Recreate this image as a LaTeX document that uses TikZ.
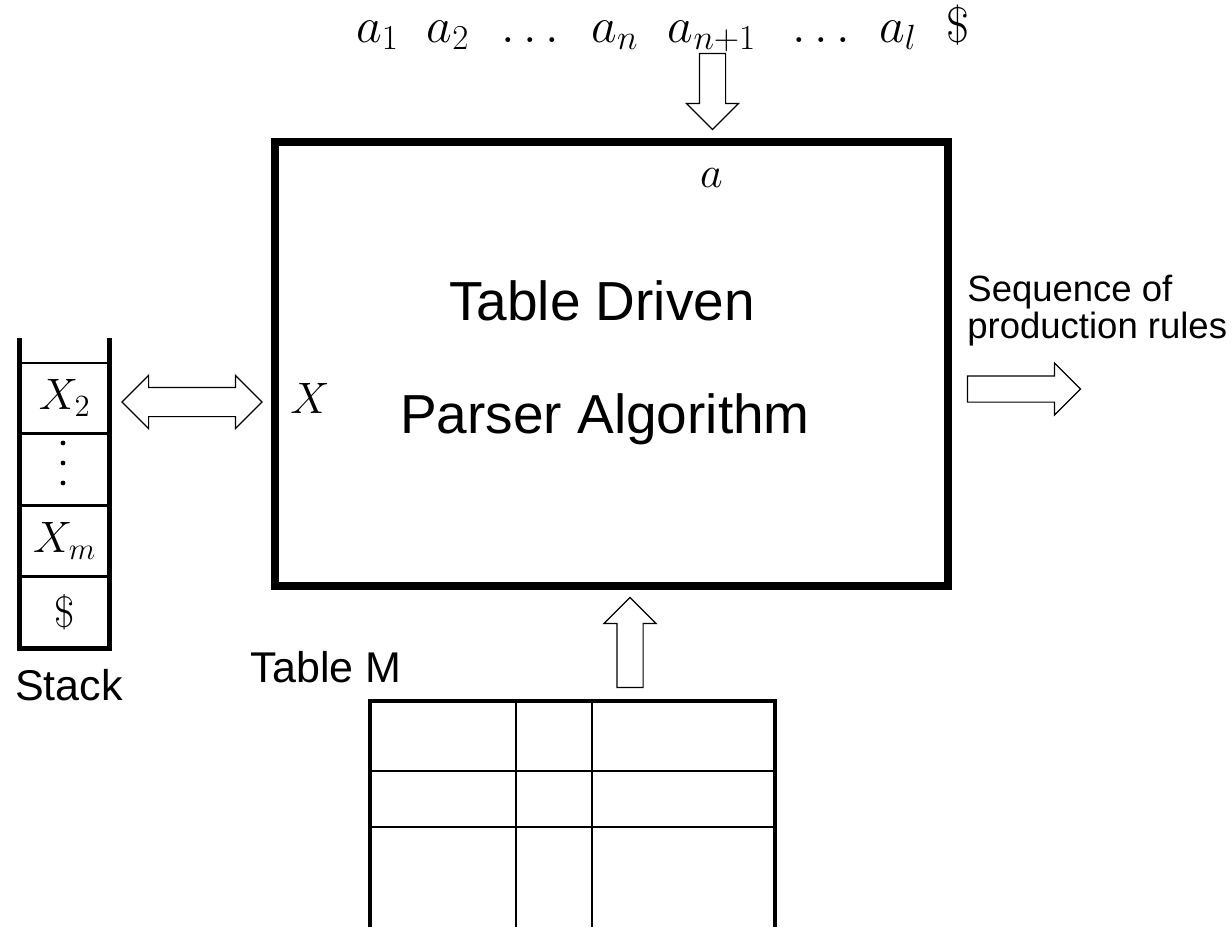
\documentclass[tikz,border=0pt]{standalone}
\usepackage{fix-cm}
\usepackage{fontspec}
\setsansfont{Liberation Sans}
\usetikzlibrary{shapes.arrows, positioning}

\begin{document}
\begin{tikzpicture}[x=0.5pt, y=-0.5pt,
    cell/.style={rectangle, draw, line width=0.75pt, minimum width=44.25pt, minimum height=35pt, inner sep=0pt, font=\fontsize{22}{26}\selectfont},
    hollow/.style={draw, fill=white, line width=0.6pt, inner xsep=0pt, inner ysep=6.25pt},
    intext/.style={inner sep=0pt, anchor=base, font=\fontsize{25}{30}\selectfont},
    mathtext/.style={inner sep=0pt, anchor=base, font=\fontsize{22}{26}\selectfont},
    bigtext/.style={inner sep=0pt, anchor=base, font=\sffamily\fontsize{27.5}{33}\selectfont},
    sidetext/.style={inner sep=0pt, anchor=base, font=\sffamily\fontsize{21.5}{26}\selectfont}]
    \useasboundingbox (0,0) rectangle (1232,927);

    % input tokens
    \foreach \x/\t [count=\i] in {377.5/a_1, 448/a_2, 530.5/\ldots, 615/a_n, 712/a_{n+1}, 821.5/\ldots, 898/a_l, 957.5/\$}
        \node[intext] (in\i) at (\x,42) {$\t$};

    % parser
    \node[rectangle, draw, line width=4pt, minimum width=336.5pt, minimum height=222.25pt] (parser) at (611,363.75) {};
    \node[bigtext] (title1) at (602,320) {Table Driven};
    \node[bigtext] (title2) at (605,433) {Parser Algorithm};
    \node[mathtext] (symx) at (310,413) {$X$};
    \node[mathtext] (syma) at (711.5,187) {$a$};

    % stack
    \node[cell] (x2) at (64.75,398) {$X_2$};
    \node[cell] (mid) [below=0pt of x2] {};
    \node[cell] (xm) [below=0pt of mid] {$X_m$};
    \node[cell] (bot) [below=0pt of xm] {\$};
    \foreach \y in {443,463,483}
        \fill (63,\y) circle[radius=1.2pt];
    \draw[line width=2.5pt] ([yshift=12pt]x2.north west) -- (bot.south west) -- (bot.south east) -- ([yshift=12pt]x2.north east);
    \node[sidetext] (stacklbl) at (69,700) {Stack};

    % table M
    \draw[line width=2pt] (370,927) -- (370,700.5) -- (775,700.5) -- (775,927);
    \draw[line width=0.75pt] (516,700.5) -- (516,927) (592,700.5) -- (592,927)
        (370,771) -- (775,771) (370,827) -- (775,827);
    \node[sidetext] (tbllbl) at (326,682) {Table M};

    % output
    \node[inner sep=0pt, anchor=base west, align=left, font=\sffamily\fontsize{18.25}{16.5}\selectfont] (out) at (967,338) {Sequence of\\production rules};

    % block arrows
    \node[hollow, single arrow, single arrow tip angle=90, single arrow head extend=6.5pt, minimum height=38pt, minimum width=25.5pt, rotate=-90] (tokarrow) at (712.5,85) {};
    \node[hollow, single arrow, single arrow tip angle=90, single arrow head extend=6.5pt, minimum height=45pt, minimum width=26pt, rotate=90] (tblarrow) at (630,649) {};
    \node[hollow, single arrow, single arrow tip angle=90, single arrow head extend=6.5pt, minimum height=56.5pt, minimum width=26pt] (outarrow) at (1017.5,389) {};
    \node[hollow, inner ysep=7pt, double arrow, double arrow tip angle=90, double arrow head extend=6pt, minimum height=70pt, minimum width=26pt] (stackarrow) at (192,402) {};
\end{tikzpicture}
\end{document}
